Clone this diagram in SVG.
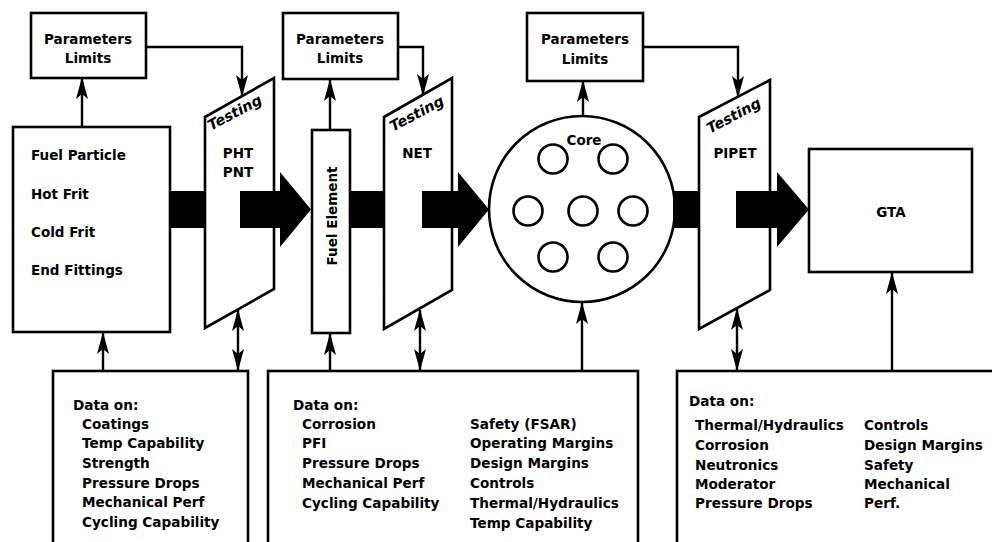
<svg xmlns="http://www.w3.org/2000/svg" width="992" height="542" viewBox="0 0 992 542">
<style>
.box{fill:#fff;stroke:#000;stroke-width:2.6}
.ln{fill:none;stroke:#000;stroke-width:2.4}
.blk{fill:#000}
text{font-family:"DejaVu Sans","Liberation Sans",sans-serif;font-weight:bold;font-size:13.5px;fill:#000}
.c{text-anchor:middle}
.it{font-style:italic;font-size:14.5px}
.d{font-size:13.6px}
</style>
<defs>
<marker id="ah" markerUnits="userSpaceOnUse" viewBox="0 0 22 12" refX="21" refY="6" markerWidth="22" markerHeight="12" orient="auto-start-reverse">
<path d="M0,0 L22,6 L0,12 L5,6 Z" fill="#000"/>
</marker>
</defs>
<rect width="992" height="542" fill="#fff"/>

<g id="params1"><rect class="box" x="31" y="13" width="115" height="65"/><text class="c" x="88" y="44">Parameters</text><text class="c" x="88" y="63">Limits</text></g>
<g id="params2"><rect class="box" x="283" y="13" width="115" height="66"/><text class="c" x="340" y="44">Parameters</text><text class="c" x="340" y="63">Limits</text></g>
<g id="params3"><rect class="box" x="527" y="13" width="116" height="68"/><text class="c" x="585" y="44">Parameters</text><text class="c" x="585" y="64">Limits</text></g>

<g id="fuel-components"><rect class="box" x="13" y="127" width="157" height="205"/>
<text x="31" y="160">Fuel Particle</text><text x="31" y="199">Hot Frit</text><text x="31" y="237">Cold Frit</text><text x="31" y="275">End Fittings</text></g>

<g id="testing1"><polygon class="box" points="205,117 274,78 274,289 205,328"/>
<text class="it c" transform="translate(237,117) rotate(-28)">Testing</text>
<text class="c" x="238" y="158">PHT</text><text class="c" x="238" y="177">PNT</text></g>

<g id="fuel-element"><rect class="box" x="312" y="130" width="38" height="203"/>
<text class="c" transform="translate(337,216) rotate(-90)">Fuel Element</text></g>

<g id="testing2"><polygon class="box" points="384,117 452,78 452,290 384,329"/>
<text class="it c" transform="translate(419,118) rotate(-28)">Testing</text>
<text class="c" x="417" y="158">NET</text></g>

<g id="core"><circle class="box" cx="582" cy="209" r="93"/>
<text class="c" x="584" y="145">Core</text>
<circle class="box" cx="553" cy="159" r="14.5"/><circle class="box" cx="613" cy="159" r="14.5"/>
<circle class="box" cx="528" cy="211" r="14.5"/><circle class="box" cx="583" cy="211" r="14.5"/><circle class="box" cx="633" cy="211" r="14.5"/>
<circle class="box" cx="553" cy="257" r="14.5"/><circle class="box" cx="613" cy="257" r="14.5"/></g>

<g id="testing3"><polygon class="box" points="699,117 770,80 770,290 699,329"/>
<text class="it c" transform="translate(736,120) rotate(-28)">Testing</text>
<text class="c" x="735" y="158">PIPET</text></g>

<g id="gta"><rect class="box" x="809" y="149" width="163" height="123"/><text class="c" x="891" y="217">GTA</text></g>

<g id="data1"><rect class="box" x="53" y="371" width="195" height="200"/>
<text class="d" x="73" y="410">Data on:</text>
<text class="d" x="82" y="429">Coatings</text><text class="d" x="82" y="448">Temp Capability</text><text class="d" x="82" y="468">Strength</text><text class="d" x="82" y="488">Pressure Drops</text><text class="d" x="82" y="507">Mechanical Perf</text><text class="d" x="82" y="527">Cycling Capability</text></g>

<g id="data2"><rect class="box" x="268" y="371" width="370" height="200"/>
<text class="d" x="293" y="410">Data on:</text>
<text class="d" x="302" y="429">Corrosion</text><text class="d" x="302" y="448">PFI</text><text class="d" x="302" y="468">Pressure Drops</text><text class="d" x="302" y="488">Mechanical Perf</text><text class="d" x="302" y="508">Cycling Capability</text>
<text class="d" x="470" y="429">Safety (FSAR)</text><text class="d" x="470" y="448">Operating Margins</text><text class="d" x="470" y="468">Design Margins</text><text class="d" x="470" y="488">Controls</text><text class="d" x="470" y="508">Thermal/Hydraulics</text><text class="d" x="470" y="528">Temp Capability</text></g>

<g id="data3"><rect class="box" x="677" y="371" width="330" height="200"/>
<text class="d" x="689" y="406">Data on:</text>
<text class="d" x="695" y="430">Thermal/Hydraulics</text><text class="d" x="695" y="450">Corrosion</text><text class="d" x="695" y="470">Neutronics</text><text class="d" x="695" y="489">Moderator</text><text class="d" x="695" y="508">Pressure Drops</text>
<text class="d" x="864" y="430">Controls</text><text class="d" x="864" y="450">Design Margins</text><text class="d" x="864" y="470">Safety</text><text class="d" x="864" y="489">Mechanical</text><text class="d" x="864" y="508">Perf.</text></g>

<g id="connectors">
<rect class="blk" x="170" y="191" width="35" height="37"/>
<polygon class="blk" points="240,191 280,191 280,172 311,209.5 280,247 280,228 240,228"/>
<rect class="blk" x="350" y="191" width="34" height="37"/>
<polygon class="blk" points="422,191 458,191 458,172 489,209.5 458,247 458,228 422,228"/>
<rect class="blk" x="673" y="191" width="26" height="37"/>
<polygon class="blk" points="736,191 777,191 777,172 809,209.5 777,247 777,228 736,228"/>

<path class="ln" d="M82,127 V78" marker-end="url(#ah)"/>
<path class="ln" d="M146,47 H242 V96" marker-end="url(#ah)"/>
<path class="ln" d="M330,130 V80" marker-end="url(#ah)"/>
<path class="ln" d="M398,47 H423 V95" marker-end="url(#ah)"/>
<path class="ln" d="M583,116 V81" marker-end="url(#ah)"/>
<path class="ln" d="M643,47 H738 V97" marker-end="url(#ah)"/>

<path class="ln" d="M103,371 V333" marker-end="url(#ah)"/>
<path class="ln" d="M238,310 V370" marker-start="url(#ah)" marker-end="url(#ah)"/>
<path class="ln" d="M330,371 V334" marker-end="url(#ah)"/>
<path class="ln" d="M420,310 V370" marker-start="url(#ah)" marker-end="url(#ah)"/>
<path class="ln" d="M582,371 V303" marker-end="url(#ah)"/>
<path class="ln" d="M737,309 V370" marker-start="url(#ah)" marker-end="url(#ah)"/>
<path class="ln" d="M892,371 V273" marker-end="url(#ah)"/>
</g>
</svg>
